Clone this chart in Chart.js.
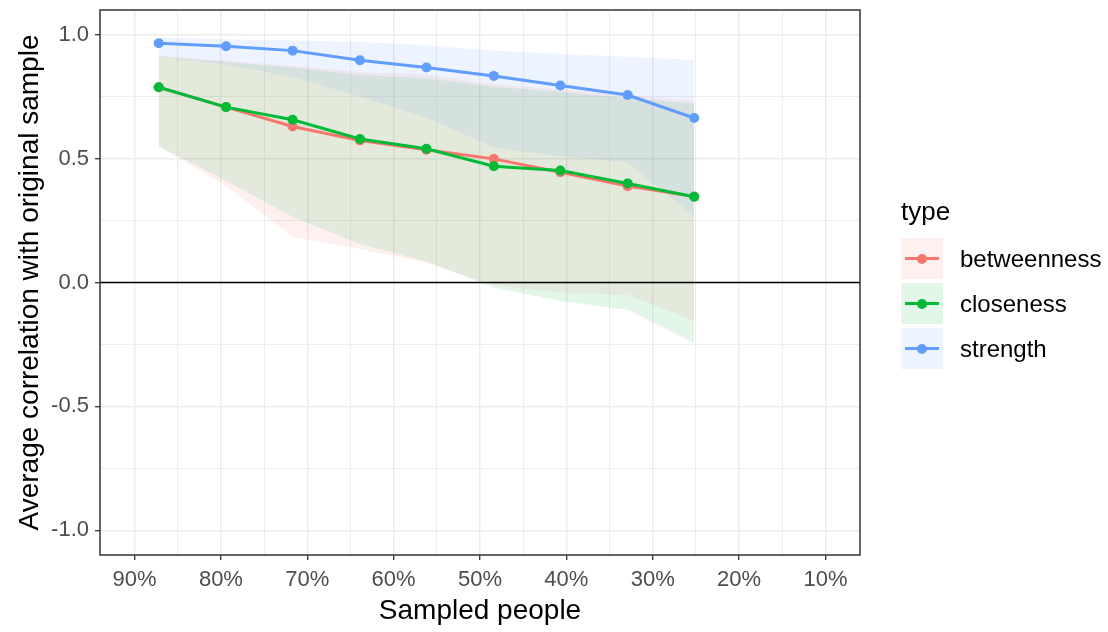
<!DOCTYPE html>
<html lang="en">

<head>
    <meta charset="UTF-8">
    <script src="https://cdn.jsdelivr.net/npm/chart.js"></script>
    <title>Case-dropping bootstrap</title>
    <style>
        body {
            margin: 0;
            background: #fff;
            font-family: "Liberation Sans", Arial, sans-serif;
        }

        .area {
            position: relative;
            width: 1108px;
            height: 632px;
        }

        .legendaTitulo {
            position: absolute;
            left: 901px;
            top: 196px;
            font-size: 26px;
            color: #000;
        }

        .item {
            position: absolute;
            left: 901px;
            height: 41px;
            display: flex;
            align-items: center;
            font-size: 24px;
            color: #000;
        }

        .chave {
            position: relative;
            width: 42px;
            height: 41px;
            margin-right: 17px;
        }

        .chave .linha {
            position: absolute;
            left: 4px;
            right: 4px;
            top: 19px;
            height: 3px;
        }

        .chave .ponto {
            position: absolute;
            left: 16px;
            top: 15.5px;
            width: 10px;
            height: 10px;
            border-radius: 50%;
        }
    </style>
</head>

<body>
    <div class="area">
        <canvas id="grafico" width="1108" height="632"></canvas>

        <div class="legendaTitulo">type</div>
        <div class="item" style="top:238px">
            <span class="chave" style="background:rgba(248,118,109,0.11)">
                <span class="linha" style="background:#F8766D"></span>
                <span class="ponto" style="background:#F8766D"></span>
            </span>betweenness
        </div>
        <div class="item" style="top:283px">
            <span class="chave" style="background:rgba(0,186,56,0.11)">
                <span class="linha" style="background:#00BA38"></span>
                <span class="ponto" style="background:#00BA38"></span>
            </span>closeness
        </div>
        <div class="item" style="top:328px">
            <span class="chave" style="background:rgba(97,156,255,0.11)">
                <span class="linha" style="background:#619CFF"></span>
                <span class="ponto" style="background:#619CFF"></span>
            </span>strength
        </div>
    </div>
</body>

</html>

<script>

    // ======================= dados =======================

    // porcentagem de pessoas amostradas em cada passo
    const amostra = [87.2, 79.4, 71.7, 63.9, 56.2, 48.4, 40.7, 32.9, 25.2];

    // correlação média com a amostra original
    const betweenness = [0.788, 0.708, 0.630, 0.573, 0.536, 0.499, 0.445, 0.389, 0.347];
    const closeness = [0.788, 0.708, 0.657, 0.579, 0.540, 0.469, 0.452, 0.400, 0.346];
    const strength = [0.966, 0.954, 0.936, 0.897, 0.868, 0.834, 0.795, 0.757, 0.664];

    // faixas (limite superior / inferior)
    const betweennessSup = [0.915, 0.895, 0.875, 0.850, 0.840, 0.800, 0.780, 0.755, 0.735];
    const betweennessInf = [0.550, 0.390, 0.185, 0.135, 0.080, -0.010, -0.040, -0.050, -0.155];
    const closenessSup = [0.912, 0.890, 0.868, 0.838, 0.825, 0.790, 0.770, 0.745, 0.722];
    const closenessInf = [0.550, 0.410, 0.265, 0.155, 0.085, -0.020, -0.075, -0.110, -0.245];
    const strengthSup = [0.988, 0.982, 0.977, 0.972, 0.957, 0.937, 0.922, 0.911, 0.898];
    const strengthInf = [0.910, 0.880, 0.830, 0.750, 0.665, 0.545, 0.510, 0.485, 0.265];

    // linha de referência horizontal
    const referencia = 0;

    // eixos
    const ticksX = [90, 80, 70, 60, 50, 40, 30, 20, 10];
    const gradeX = [90, 85, 80, 75, 70, 65, 60, 55, 50, 45, 40, 35, 30, 25, 20, 15, 10];
    const ticksY = [-1, -0.5, 0, 0.5, 1];
    const gradeY = [-1, -0.75, -0.5, -0.25, 0, 0.25, 0.5, 0.75, 1];

    // ======================================================================

    const cores = {
        betweenness: '#F8766D',
        closeness: '#00BA38',
        strength: '#619CFF'
    };

    function transparente(hex, alfa) {
        const r = parseInt(hex.slice(1, 3), 16);
        const g = parseInt(hex.slice(3, 5), 16);
        const b = parseInt(hex.slice(5, 7), 16);
        return 'rgba(' + r + ',' + g + ',' + b + ',' + alfa + ')';
    }

    function pares(valores) {
        return amostra.map((x, i) => ({ x: x, y: valores[i] }));
    }

    function linha(valores, cor) {
        return {
            data: pares(valores),
            borderColor: cor,
            backgroundColor: cor,
            borderWidth: 3,
            pointRadius: 5,
            pointBorderWidth: 0,
            fill: false
        };
    }

    // faixa = dataset superior preenchido até o inferior
    function faixa(sup, inf, cor) {
        return [
            { data: pares(sup), borderWidth: 0, pointRadius: 0, fill: '+1', backgroundColor: transparente(cor, 0.11) },
            { data: pares(inf), borderWidth: 0, pointRadius: 0, fill: false }
        ];
    }

    // contorno do painel (estilo theme_bw)
    const bordaPainel = {
        id: 'bordaPainel',
        afterDraw(chart) {
            const a = chart.chartArea;
            const ctx = chart.ctx;
            ctx.save();
            ctx.strokeStyle = '#333333';
            ctx.lineWidth = 1.5;
            ctx.strokeRect(a.left, a.top, a.right - a.left, a.bottom - a.top);
            ctx.restore();
        }
    };

    const fonteTick = { family: '"Liberation Sans", Arial, sans-serif', size: 22 };
    const fonteTitulo = { family: '"Liberation Sans", Arial, sans-serif', size: 28 };

    const grafico = new Chart(document.getElementById('grafico'), {
        type: 'line',
        data: {
            datasets: [
                {
                    data: [{ x: 94, y: referencia }, { x: 6, y: referencia }],
                    borderColor: '#000',
                    borderWidth: 1.6,
                    pointRadius: 0,
                    fill: false
                },
                linha(strength, cores.strength),
                linha(closeness, cores.closeness),
                linha(betweenness, cores.betweenness),
                ...faixa(strengthSup, strengthInf, cores.strength),
                ...faixa(closenessSup, closenessInf, cores.closeness),
                ...faixa(betweennessSup, betweennessInf, cores.betweenness)
            ]
        },
        options: {
            responsive: false,
            animation: false,
            layout: {
                padding: { left: 0, top: 10, right: 248, bottom: 0 }
            },
            plugins: {
                legend: { display: false },
                tooltip: { enabled: false }
            },
            scales: {
                x: {
                    type: 'linear',
                    reverse: true,
                    min: 6,
                    max: 94,
                    afterBuildTicks: (s) => { s.ticks = gradeX.map(v => ({ value: v })); },
                    afterFit: (s) => { s.height = 77; s.paddingLeft = 0; s.paddingRight = 0; },
                    ticks: {
                        callback: (v) => ticksX.includes(v) ? v + '%' : '',
                        autoSkip: false,
                        maxRotation: 0,
                        color: '#4D4D4D',
                        font: fonteTick,
                        padding: 7
                    },
                    grid: {
                        color: '#EBEBEB',
                        lineWidth: (c) => ticksX.includes(c.tick.value) ? 1.4 : 0.9,
                        tickLength: 5,
                        tickWidth: 1.3,
                        tickColor: (c) => ticksX.includes(c.tick.value) ? '#333333' : 'rgba(0,0,0,0)'
                    },
                    border: { display: false },
                    title: {
                        display: true,
                        text: 'Sampled people',
                        color: '#000',
                        font: fonteTitulo,
                        padding: { top: 0, bottom: 4 }
                    }
                },
                y: {
                    min: -1.1,
                    max: 1.1,
                    afterBuildTicks: (s) => { s.ticks = gradeY.map(v => ({ value: v })); },
                    afterFit: (s) => { s.width = 100; s.paddingTop = 0; s.paddingBottom = 0; },
                    ticks: {
                        callback: (v) => ticksY.includes(v) ? v.toFixed(1) : '',
                        autoSkip: false,
                        color: '#4D4D4D',
                        font: fonteTick,
                        padding: 6
                    },
                    grid: {
                        color: '#EBEBEB',
                        lineWidth: (c) => ticksY.includes(c.tick.value) ? 1.4 : 0.9,
                        tickLength: 5,
                        tickWidth: 1.3,
                        tickColor: (c) => ticksY.includes(c.tick.value) ? '#333333' : 'rgba(0,0,0,0)'
                    },
                    border: { display: false },
                    title: {
                        display: true,
                        text: 'Average correlation with original sample',
                        color: '#000',
                        font: fonteTitulo,
                        padding: { top: 13, bottom: 0 }
                    }
                }
            }
        },
        plugins: [bordaPainel]
    });

</script>
